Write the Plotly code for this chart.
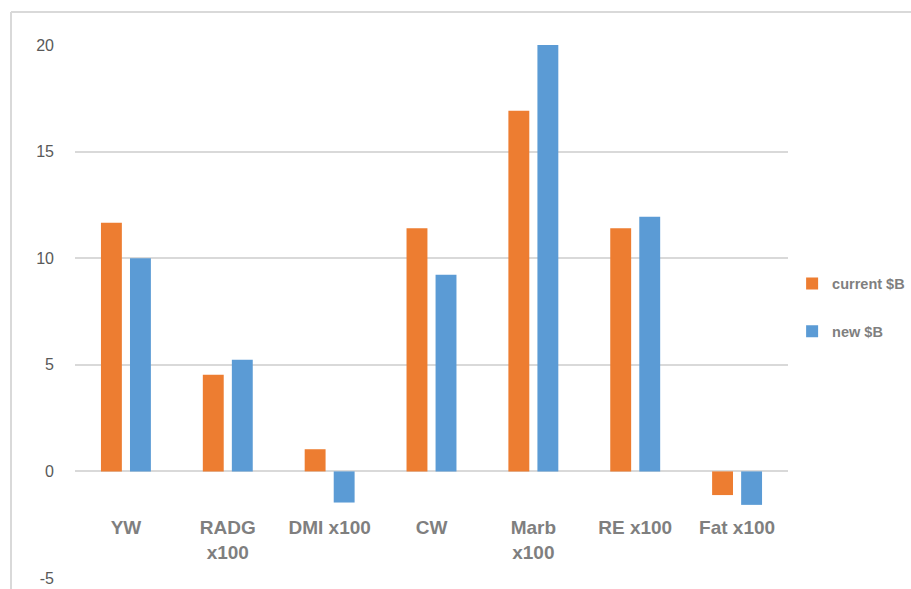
import plotly.graph_objects as go

categories = ["YW", "RADG<br>x100", "DMI x100", "CW", "Marb<br>x100", "RE x100", "Fat x100"]
current_b = [11.66, 4.53, 1.04, 11.41, 16.92, 11.41, -1.11]
new_b = [10.0, 5.24, -1.46, 9.22, 20.0, 11.95, -1.57]
y_ticks = [-5, 0, 5, 10, 15, 20]
y_tick_labels = ["-5", "0", "5", "10", "15", "20"]

ORANGE = "#ED7D31"
BLUE = "#5B9BD5"
GRID = "#D9D9D9"

fig = go.Figure()
fig.add_trace(go.Bar(name="current $B", x=categories, y=current_b,
                     marker=dict(color=ORANGE, line=dict(width=0)),
                     legendgroup="a"))
fig.add_trace(go.Bar(name="new $B", x=categories, y=new_b,
                     marker=dict(color=BLUE, line=dict(width=0)),
                     legendgroup="b"))

# chart border (top and left edges visible)
L, T, W, H = 75, 45, 713, 533
def px_x(p):
    return (p - L) / W
def px_y(p):
    return (T + H - p) / H

fig.add_shape(type="line", xref="paper", yref="paper",
              x0=px_x(11), x1=px_x(915), y0=px_y(12), y1=px_y(12),
              line=dict(color=GRID, width=2))
fig.add_shape(type="line", xref="paper", yref="paper",
              x0=px_x(11), x1=px_x(11), y0=px_y(12), y1=px_y(595),
              line=dict(color=GRID, width=2))

fig.update_layout(
    width=911, height=589, autosize=False,
    margin=dict(l=L, r=911 - L - W, t=T, b=589 - T - H, autoexpand=False),
    paper_bgcolor="white", plot_bgcolor="white",
    barmode="group", bargap=0.43, bargroupgap=0.28,
    font=dict(family="Liberation Sans, Arial, sans-serif", color="#595959"),
    xaxis=dict(
        anchor="free", position=0.2, automargin=False,
        showgrid=False, showline=False, zeroline=False,
        ticks="", ticklabelstandoff=43,
        tickfont=dict(size=19, color="#7F7F7F", weight="bold"),
        fixedrange=True,
    ),
    yaxis=dict(
        range=[-5, 20], tickvals=y_ticks, ticktext=y_tick_labels, automargin=False,
        showgrid=True, gridcolor=GRID, gridwidth=2,
        zeroline=True, zerolinecolor=GRID, zerolinewidth=2,
        showline=False, ticks="", ticklabelstandoff=20,
        tickfont=dict(size=16, color="#595959"),
    ),
    legend=dict(
        xref="container", yref="container",
        x=0.8695, y=0.478, xanchor="left", yanchor="middle",
        traceorder="grouped", tracegroupgap=26,
        font=dict(size=14.5, color="#7F7F7F", weight="bold"),
        bgcolor="rgba(0,0,0,0)",
    ),
    showlegend=True,
)

fig.write_html(
    "out.html",
    config={"responsive": False, "displayModeBar": False},
    post_script="document.body.style.margin='0';document.body.style.overflow='hidden';",
)
